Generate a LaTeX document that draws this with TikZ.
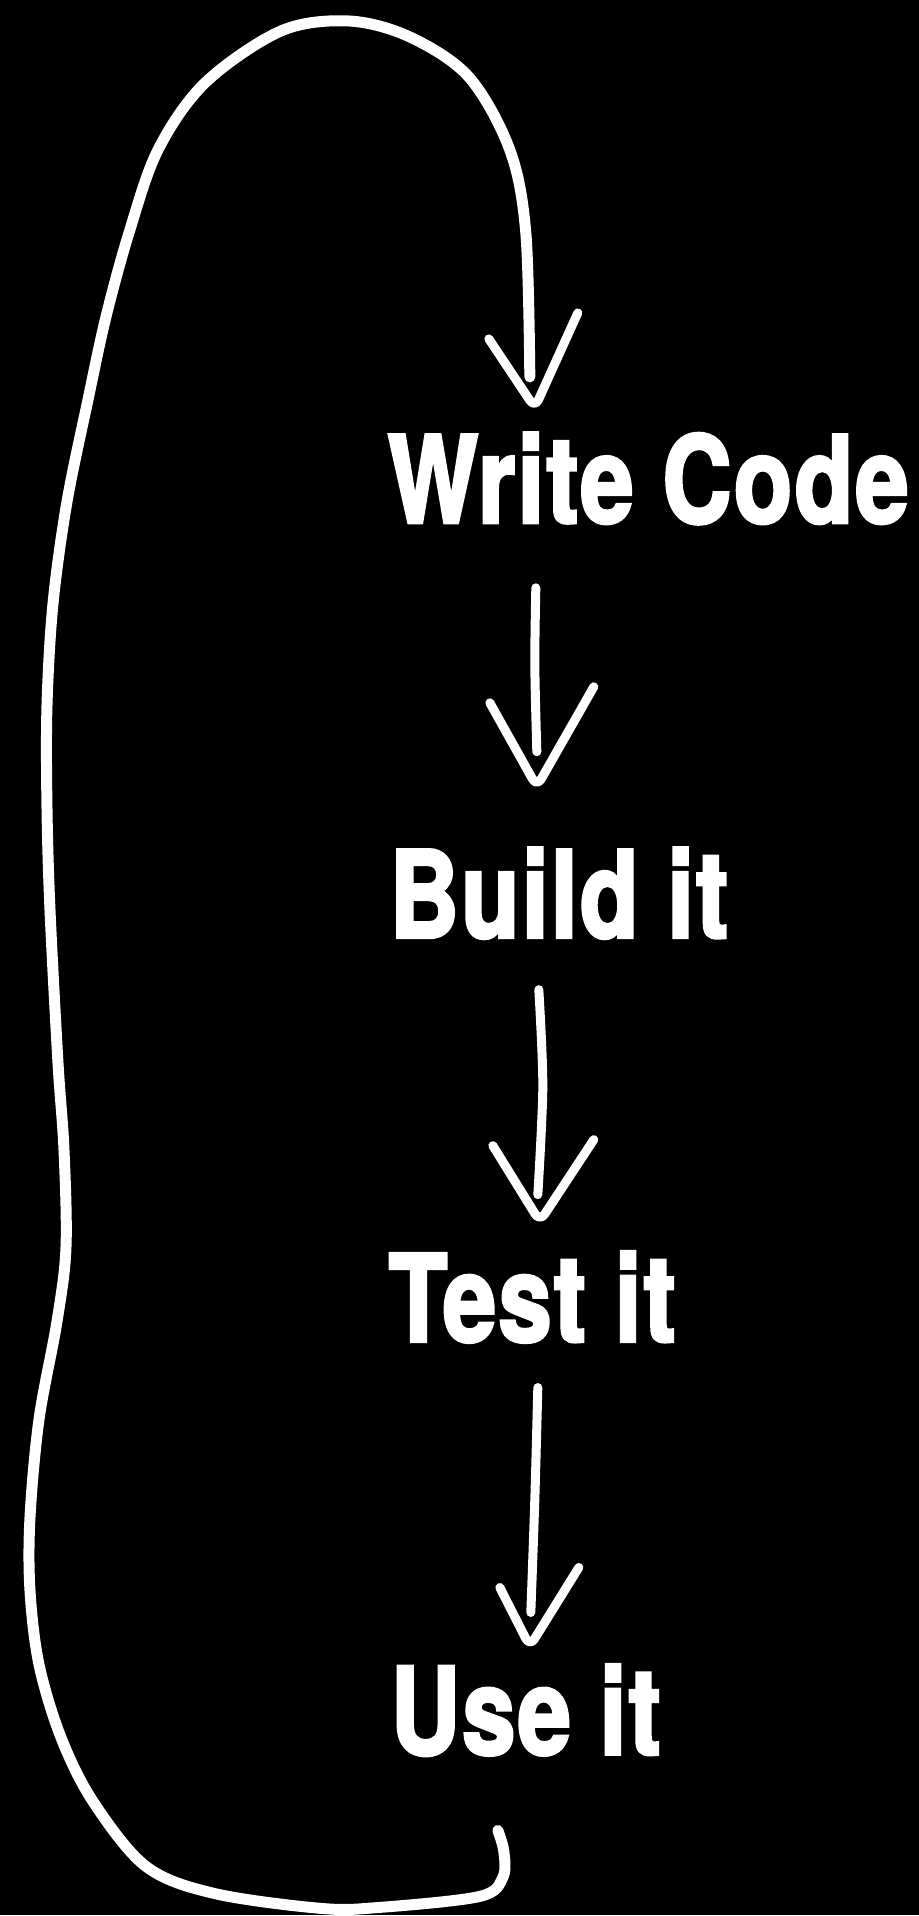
\documentclass[tikz,border=0pt]{standalone}
\usepackage{fontspec}
\newfontfamily\stagefont{TeX Gyre Heros}[FakeStretch=0.79,FakeBold=2.5,LetterSpace=2]
\tikzset{
  % labels of the cycle
  stage/.style={text=white,anchor=base west,inner sep=0,outer sep=0,
    font=\stagefont\bfseries\fontsize{121}{121}\selectfont},
  % hand drawn strokes
  shaft/.style={white,line width=9pt,line cap=round},
  head/.style={white,line width=9pt,line cap=round,line join=round,rounded corners=9pt},
  loop line/.style={white,line width=11pt,line cap=round,line join=round}
}
\begin{document}
\begin{tikzpicture}[x=1pt,y=-1pt]
    \fill[black](0,0) rectangle (919,1916);
    % stages
    \node[stage](write) at (388,523){Write Code};
    \node[stage](build) at (390,938){Build it};
    \node[stage](test) at (389,1342){Test it};
    \node[stage](use) at (391,1755){Use it};
    % arrow ends
    \coordinate (a1s) at (536,588);  \coordinate (a1e) at (537,752);
    \coordinate (a2s) at (539,990);  \coordinate (a2e) at (538,1195);
    \coordinate (a3s) at (538,1388); \coordinate (a3e) at (531,1613);
    \coordinate (loopstart) at (498,1831);
    \coordinate (loopend) at (530,377);
    % write -> build
    \draw[shaft] plot[smooth] coordinates {(a1s) (535,665) (a1e)};
    \draw[head](490,703) -- (537,787) -- (594,687);
    % build -> test
    \draw[shaft] plot[smooth] coordinates {(a2s) (543,1087) (a2e)};
    \draw[head](493,1146) -- (540,1222) -- (594,1140);
    % test -> use
    \draw[shaft] plot[smooth] coordinates {(a3s) (535,1500) (a3e)};
    \draw[head](500,1588) -- (530,1647) -- (579,1568);
    % back to the start
    \draw[loop line] plot[smooth,tension=0.55] coordinates {
      (loopstart) (504,1852) (503,1878) (480,1897) (380,1908) (321,1909)
      (214,1894) (146,1867) (93,1802) (61,1738) (39,1665) (30,1591)
      (30,1518) (39,1420) (57,1322) (66,1248) (64,1150) (58,1063)
      (50,910) (47,808) (47,706) (53,604) (67,502) (88,400) (106,317)
      (129,233) (158,150) (205,83) (281,31) (349,21) (410,37) (469,77)
      (510,150) (526,233) (loopend)};
    \draw[head](489,339) -- (535,408) -- (578,313);
\end{tikzpicture}
\end{document}
